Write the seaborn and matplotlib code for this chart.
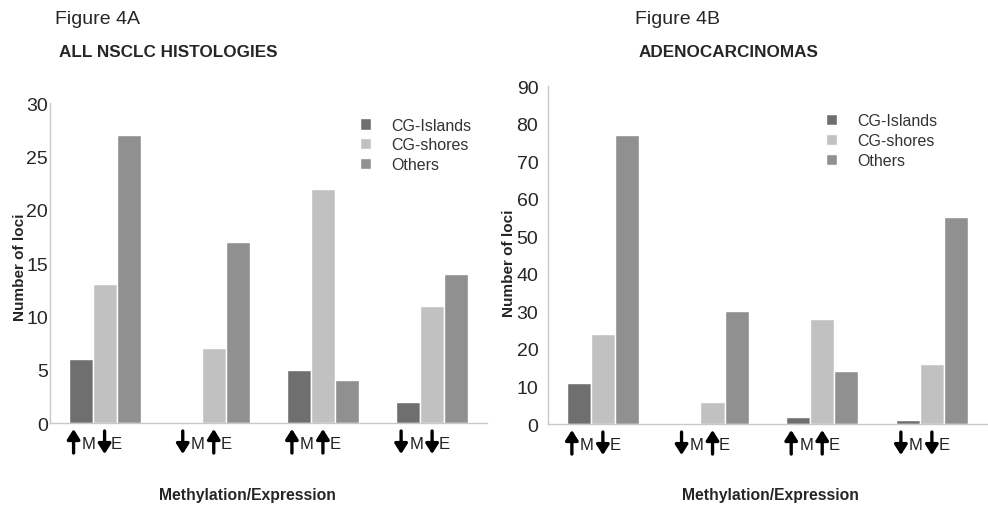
"""
Figure 4A/4B: loci counts by genomic context and methylation/expression direction.
"""

import matplotlib.pyplot as plt
import matplotlib.transforms as mtransforms
import pandas as pd
import seaborn as sns

# categories along the x axis (methylation / expression direction)
groups = ["up M / down E", "down M / up E", "up M / up E", "down M / down E"]
group_arrows = [("up", "down"), ("down", "up"), ("up", "up"), ("down", "down")]
regions = ["CG-Islands", "CG-shores", "Others"]

# Figure 4A - all NSCLC histologies
all_islands = [6, 0, 5, 2]
all_shores = [13, 7, 22, 11]
all_others = [27, 17, 4, 14]

# Figure 4B - adenocarcinomas
adeno_islands = [11, 0, 2, 1]
adeno_shores = [24, 6, 28, 16]
adeno_others = [77, 30, 14, 55]

palette = {"CG-Islands": "#6f6f6f", "CG-shores": "#c1c1c1", "Others": "#909090"}


def to_long(islands, shores, others):
    rows = []
    for region, values in zip(regions, [islands, shores, others]):
        for g, v in zip(groups, values):
            rows.append({"group": g, "region": region, "loci": v})
    return pd.DataFrame(rows)


def arrow_labels(ax):
    """Bold arrows + M / E letters under each group (offsets in pixels)."""
    fig = ax.figure
    base = mtransforms.blended_transform_factory(ax.transData, ax.transAxes)

    def shifted(dx, dy):
        return base + mtransforms.ScaledTranslation(dx / 100, dy / 100, fig.dpi_scale_trans)

    for i, (m_dir, e_dir) in enumerate(group_arrows):
        for direction, dx in [(m_dir, -31), (e_dir, 0)]:
            tail, tip = (-30, -6) if direction == "up" else (-8, -31)
            ax.annotate("", xy=(i, 0), xycoords=shifted(dx, tip),
                        xytext=(i, 0), textcoords=shifted(dx, tail),
                        arrowprops=dict(arrowstyle="-|>,head_length=0.6,head_width=0.38",
                                        mutation_scale=10, lw=2.4, color="black",
                                        shrinkA=0, shrinkB=0),
                        annotation_clip=False)
        for s, dx in [("M", -16), ("E", 12)]:
            ax.text(i, 0, s, transform=shifted(dx, -20), ha="center", va="center",
                    fontsize=12, color="#222222", clip_on=False)


def draw_panel(ax, df, ymax, yticks, tick_pad, ylabel_xy, xlabel_xy, legend_xy):
    sns.barplot(data=df, x="group", y="loci", hue="region", order=groups,
                hue_order=regions, palette=palette, width=0.66, saturation=1,
                ax=ax)
    ax.set_ylim(0, ymax)
    ax.set_xlim(-0.5, 3.5)
    ax.set_yticks(yticks)
    ax.tick_params(axis="y", length=0, labelsize=14, pad=tick_pad)
    ax.set_xticks(range(len(groups)))
    ax.set_xticklabels([""] * len(groups))
    ax.tick_params(axis="x", length=0)
    ax.set_xticks([-0.5, 0.5, 1.5, 2.5, 3.5], minor=True)
    ax.tick_params(axis="x", which="minor", length=4, color="#c8c8c8", width=0.8)
    for side in ["top", "right"]:
        ax.spines[side].set_visible(False)
    for side in ["left", "bottom"]:
        ax.spines[side].set_color("#c8c8c8")
        ax.spines[side].set_linewidth(1)

    ax.set_xlabel("Methylation/Expression", fontsize=11.3, fontweight="bold")
    ax.xaxis.set_label_coords(*xlabel_xy)
    ax.set_ylabel("Number of loci", fontsize=11, fontweight="bold")
    ax.yaxis.set_label_coords(*ylabel_xy)

    arrow_labels(ax)

    leg = ax.legend(loc="upper left", bbox_to_anchor=legend_xy, frameon=False,
                    fontsize=11.5, handlelength=0.7, handleheight=0.7,
                    handletextpad=1.25, labelspacing=0.3)
    for t in leg.get_texts():
        t.set_color("#333333")


def main():
    sns.set_style("white")
    plt.rcParams["font.family"] = ["Liberation Sans", "DejaVu Sans"]

    fig = plt.figure(figsize=(9.88, 5.06), dpi=100)
    ax_a = fig.add_axes([0.0506, 0.162, 0.442, 0.632])
    ax_b = fig.add_axes([0.5547, 0.160, 0.444, 0.668])

    draw_panel(ax_a, to_long(all_islands, all_shores, all_others), 30,
               [0, 5, 10, 15, 20, 25, 30], 1.5,
               (-0.053, 0.49), (0.453, -0.2), (0.677, 1.0))
    draw_panel(ax_b, to_long(adeno_islands, adeno_shores, adeno_others), 90,
               list(range(0, 100, 10)), 7,
               (-0.073, 0.48), (0.508, -0.186), (0.601, 0.962))

    fig.text(0.056, 0.962, "Figure 4A", fontsize=14, ha="left", va="center")
    fig.text(0.060, 0.897, "ALL NSCLC HISTOLOGIES", fontsize=12.3, fontweight="bold",
             ha="left", va="center")
    fig.text(0.643, 0.962, "Figure 4B", fontsize=14, ha="left", va="center")
    fig.text(0.646, 0.897, "ADENOCARCINOMAS", fontsize=12.3, fontweight="bold",
             ha="left", va="center")

    fig.savefig("out.png", dpi=100)
    plt.close(fig)


if __name__ == "__main__":
    main()
